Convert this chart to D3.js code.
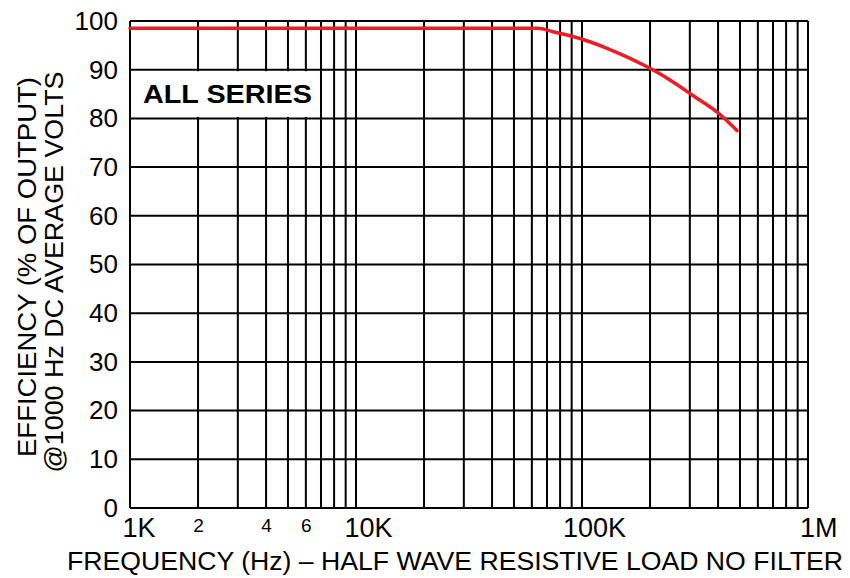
<!DOCTYPE html>
<html><head><meta charset="utf-8">
<script src="https://cdn.jsdelivr.net/npm/d3@7"></script>
<style>body{margin:0;background:#fff}svg{display:block}text{font-family:"Liberation Sans",Arial,sans-serif;fill:#000}</style>
</head><body>
<script>
// Data
const freqs = [1000, 20000, 63900, 74400, 98000, 129000, 194000, 245000, 307000, 408000, 485000];
const efficiency = [98.5, 98.5, 98.5, 97.8, 96.4, 94.4, 90.6, 87.9, 84.8, 80.8, 77.5];
const yTicks = [0,10,20,30,40,50,60,70,80,90,100];
const xMajorTicks = [1000, 10000, 100000, 1000000];
const xMajorLabels = ["1K", "10K", "100K", "1M"];
const xMinorLabeled = [2000, 4000, 6000];
const xMinorLabels = ["2", "4", "6"];
const seriesLabel = "ALL SERIES";
const xTitle = "FREQUENCY (Hz) \u2013 HALF WAVE RESISTIVE LOAD NO FILTER";
const yTitle = ["EFFICIENCY (% OF OUTPUT)", "@1000 Hz DC AVERAGE VOLTS"];

const W = 850, H = 578;
const m = {l:130, r:42, t:21, b:70};
const svg = d3.select("body").append("svg").attr("width", W).attr("height", H);
const x = d3.scaleLog().domain([1000, 1000000]).range([m.l, W - m.r]);
const y = d3.scaleLinear().domain([0, 100]).range([H - m.b, m.t]);

// grid lines
const gridX = [];
for (let d = 1000; d < 1000000; d *= 10) for (let k = 1; k < 10; k++) gridX.push(d * k);
gridX.push(1000000);
const g = svg.append("g");
g.selectAll("line.v").data(gridX).join("line")
  .attr("x1", d => x(d)).attr("x2", d => x(d)).attr("y1", y(0)).attr("y2", y(100))
  .attr("stroke", "#000").attr("stroke-width", 2);
g.selectAll("line.h").data(yTicks).join("line")
  .attr("x1", x(1000)).attr("x2", x(1000000)).attr("y1", d => y(d)).attr("y2", d => y(d))
  .attr("stroke", "#000").attr("stroke-width", 2);

// label box
svg.append("rect").attr("x", x(1000) + 1.5).attr("y", y(90) + 1.5)
  .attr("width", x(6700) - x(1000) - 3).attr("height", y(80) - y(90) - 3).attr("fill", "#fff");
svg.append("text").attr("x", 143).attr("y", 103)
  .attr("font-size", 25).attr("font-weight", "bold")
  .attr("textLength", 169).attr("lengthAdjust", "spacingAndGlyphs").text(seriesLabel);

// curve
const line = d3.line().x((d, i) => x(freqs[i])).y(d => y(d)).curve(d3.curveMonotoneX);
svg.append("path").datum(efficiency).attr("d", line).attr("fill", "none")
  .attr("stroke", "#ee1c25").attr("stroke-width", 3.5).attr("stroke-linecap", "round");

// y axis labels
const yAxis = d3.axisLeft(y).tickValues(yTicks).tickSize(0).tickPadding(12);
const ya = svg.append("g").attr("transform", `translate(${m.l},0)`).call(yAxis);
ya.select(".domain").remove();
ya.selectAll("text").attr("font-size", 26).attr("font-family", "Liberation Sans, Arial, sans-serif").attr("fill", "#000");

// x axis labels
const xAxis = d3.axisBottom(x).tickValues(xMajorTicks).tickFormat((d, i) => xMajorLabels[i]).tickSize(0).tickPadding(10);
const xa = svg.append("g").attr("transform", `translate(0,${H - m.b})`).call(xAxis);
xa.select(".domain").remove();
xa.selectAll("text").attr("font-size", 27).attr("font-family", "Liberation Sans, Arial, sans-serif").attr("fill", "#000")
  .attr("text-anchor", (d, i) => i === 0 ? "start" : (i === 3 ? "end" : "middle"))
  .attr("dx", (d, i) => i === 0 ? -8 : (i === 3 ? 29 : 12));
const xMinor = d3.axisBottom(x).tickValues(xMinorLabeled).tickFormat((d, i) => xMinorLabels[i]).tickSize(0).tickPadding(11);
const xm = svg.append("g").attr("transform", `translate(0,${H - m.b})`).call(xMinor);
xm.select(".domain").remove();
xm.selectAll("text").attr("font-size", 19).attr("font-family", "Liberation Sans, Arial, sans-serif").attr("fill", "#000");

// titles
svg.append("text").attr("x", 455).attr("y", 570).attr("text-anchor", "middle").attr("font-size", 26)
  .attr("textLength", 776).attr("lengthAdjust", "spacingAndGlyphs").text(xTitle);
const yLines = [{x: 36, c: 267, len: 380}, {x: 63, c: 272, len: 401}];
yTitle.forEach((t, i) => {
  svg.append("text").attr("transform", `translate(${yLines[i].x},${yLines[i].c}) rotate(-90)`)
    .attr("text-anchor", "middle").attr("font-size", 26)
    .attr("textLength", yLines[i].len).attr("lengthAdjust", "spacingAndGlyphs").text(t);
});
</script>
</body></html>
